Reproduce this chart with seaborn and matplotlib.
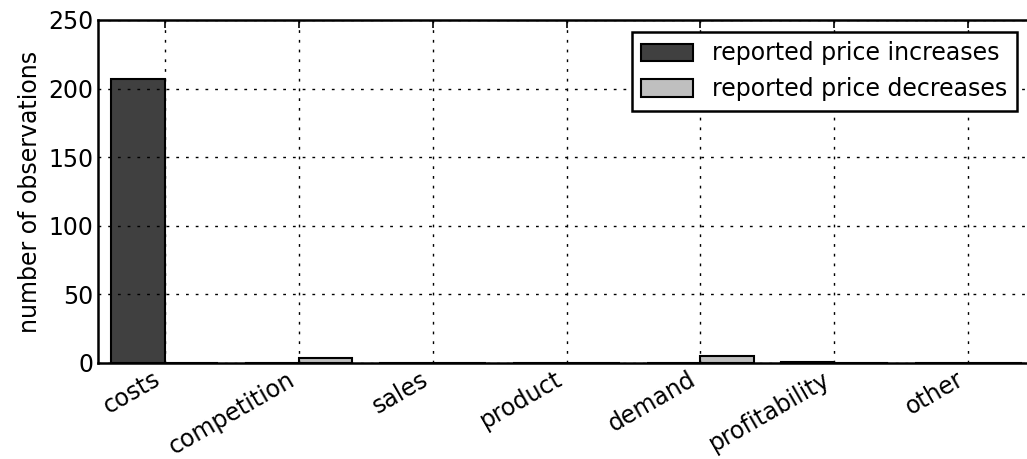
import pandas as pd
import matplotlib
matplotlib.use("Agg")
import matplotlib.pyplot as plt
import seaborn as sns

# reasons given for price changes
reasons = ['costs', 'competition', 'sales', 'product', 'demand', 'profitability', 'other']
increases = [207, 0, 0, 0, 0, 1, 0]
decreases = [0, 4, 0, 0, 5, 0, 0]
series = ['reported price increases', 'reported price decreases']
colors = ['#404040', '#bfbfbf']

df = pd.DataFrame({
    'reason': reasons * 2,
    'count': increases + decreases,
    'direction': [series[0]] * len(reasons) + [series[1]] * len(reasons),
})

sns.set_style('white')
plt.rcParams['font.family'] = ['DejaVu Sans']
plt.rcParams['text.color'] = 'black'
plt.rcParams['axes.labelcolor'] = 'black'
plt.rcParams['xtick.color'] = 'black'
plt.rcParams['ytick.color'] = 'black'

fig = plt.figure(figsize=(10.27, 4.59), dpi=100)
ax = fig.add_axes([98 / 1027, 96 / 459, 937 / 1027, 343 / 459])

sns.barplot(data=df, x='reason', y='count', hue='direction',
            order=reasons, hue_order=series, palette=colors,
            edgecolor='black', linewidth=1.5, width=0.8, ax=ax)

ax.set_xlim(-0.5, 6.5)
ax.set_ylim(0, 250)
ax.set_yticks([0, 50, 100, 150, 200, 250])
ax.set_xlabel('')
ax.set_ylabel('number of observations', fontsize=17)
ax.set_xticks(range(len(reasons)))
ax.set_xticklabels(reasons, rotation=30, ha='right', fontsize=17)
ax.tick_params(axis='y', labelsize=17)
ax.tick_params(direction='in', top=True, right=True, length=6, width=1.2, color='black')
ax.tick_params(axis='x', pad=3)

ax.grid(True, linestyle=(0, (2, 5)), color='black', linewidth=1)
ax.set_axisbelow(False)
for sp in ax.spines.values():
    sp.set_visible(True)
    sp.set_color('black')
    sp.set_linewidth(1.8)

handles, labels = ax.get_legend_handles_labels()
leg = ax.legend(handles, labels, loc='upper right',
                bbox_to_anchor=(1017 / 1027, 427 / 459), bbox_transform=fig.transFigure,
                borderaxespad=0, fontsize=17, handlelength=2.2, handleheight=0.75,
                fancybox=False, framealpha=1, edgecolor='black',
                borderpad=0.4, labelspacing=0.5)
leg.get_frame().set_linewidth(1.8)

fig.savefig('out.png', dpi=100)
